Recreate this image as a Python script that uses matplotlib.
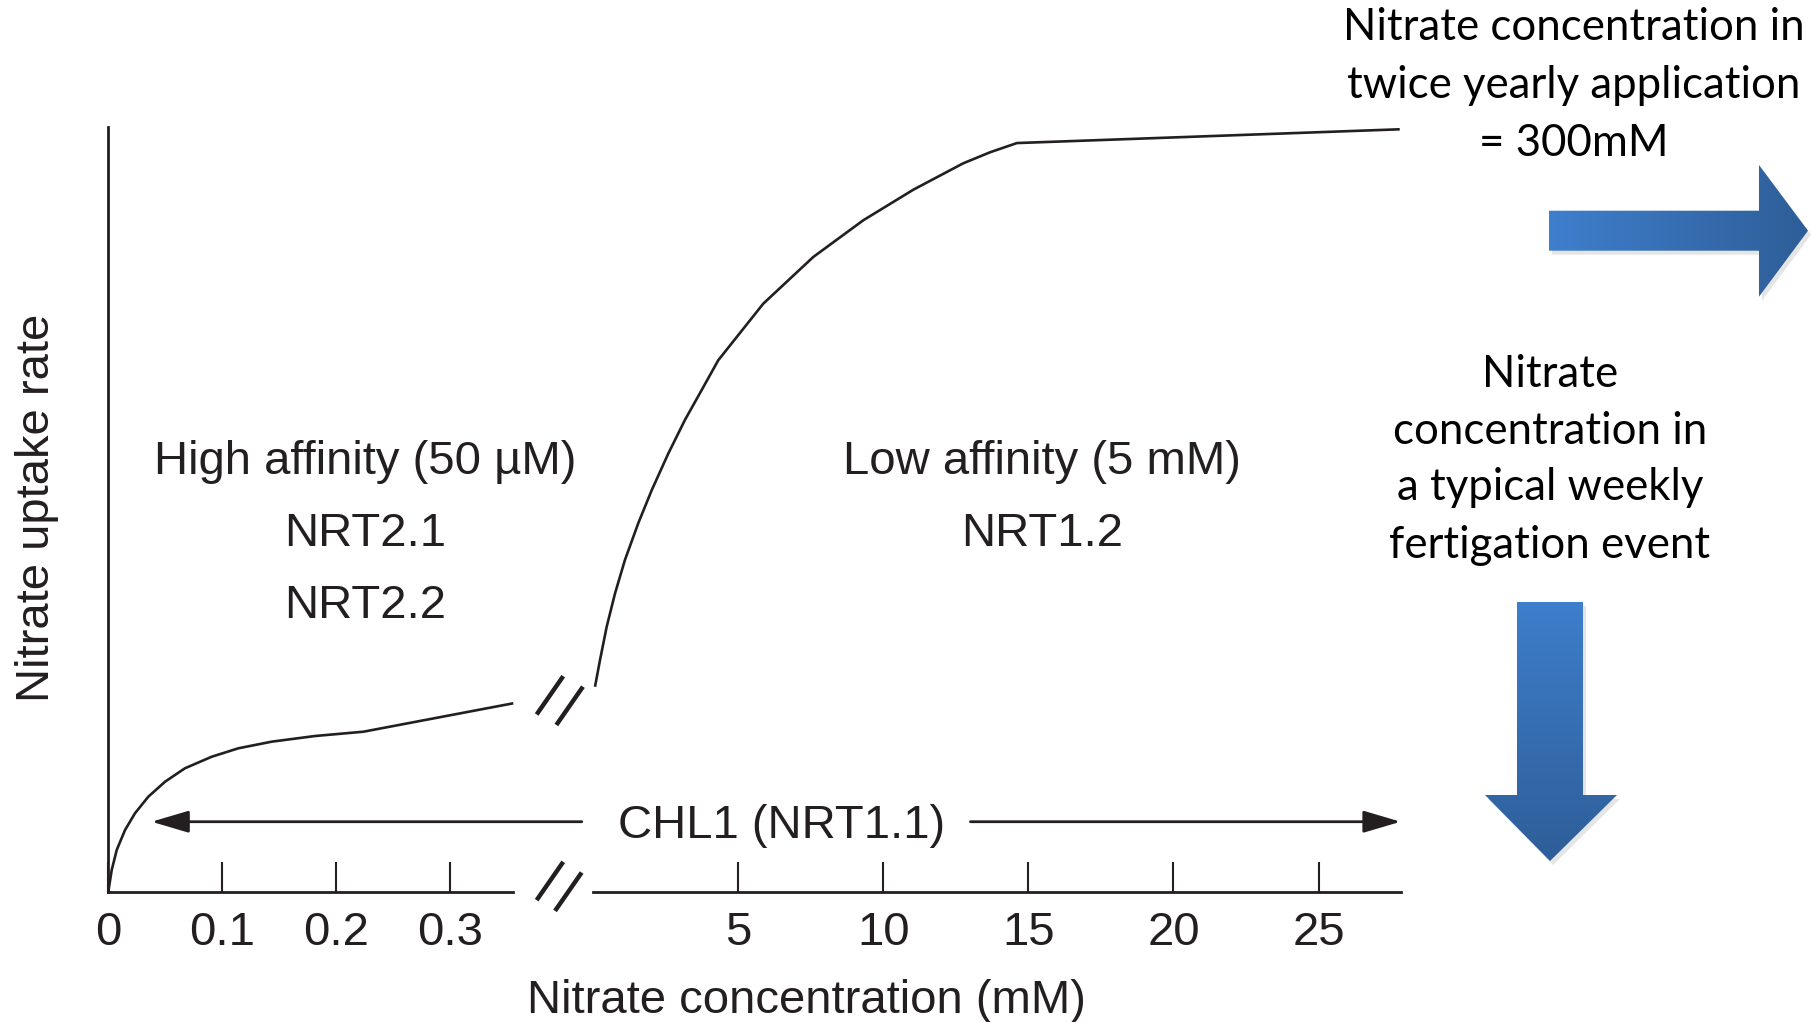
import numpy as np
import matplotlib
matplotlib.use("Agg")
import matplotlib.pyplot as plt
from matplotlib.patches import Polygon, ArrowStyle
from matplotlib.colors import to_rgb

# ---------------- data ----------------
low_conc = [0, 0.0030, 0.0074, 0.0147, 0.0234, 0.0351, 0.0498, 0.0673, 0.0908,
            0.1141, 0.1435, 0.1815, 0.2239, 0.3556]
low_rate = [0, 0.0284, 0.0546, 0.0807, 0.1025, 0.1242, 0.1438, 0.1614, 0.1765,
            0.1875, 0.1962, 0.2036, 0.2092, 0.2464]
high_conc = [0.055, 0.228, 0.458, 0.745, 1.089, 1.548, 2.010, 2.582, 3.157, 3.733,
             4.305, 5.857, 7.580, 9.304, 11.03, 12.75, 13.68, 14.6, 27.8]
high_rate = [0.268, 0.303, 0.3465, 0.390, 0.434, 0.482, 0.525, 0.573, 0.617, 0.656,
             0.695, 0.769, 0.830, 0.878, 0.918, 0.9525, 0.967, 0.979, 0.997]
low_ticks = [0, 0.1, 0.2, 0.3]
low_ticklabels = ["0", "0.1", "0.2", "0.3"]
high_ticks = [5, 10, 15, 20, 25]
high_ticklabels = ["5", "10", "15", "20", "25"]
low_xmax = 0.3556
high_xmax = 27.83
chl1_level = 0.0915
chl1_left_tip = 0.038
chl1_left_tail = -0.40   # (in high-range axis units, inside the break gap)
chl1_right_tail = 13.0

xlabel = "Nitrate concentration (mM)"
ylabel = "Nitrate uptake rate"
high_aff_lines = ["High affinity (50 \u00b5M)", "NRT2.1", "NRT2.2"]
low_aff_lines = ["Low affinity (5 mM)", "NRT1.2"]
chl1_label = "CHL1 (NRT1.1)"
yearly_lines = ["Nitrate concentration in", "twice yearly application", "= 300mM"]
weekly_lines = ["Nitrate", "concentration in", "a typical weekly", "fertigation event"]

# ---------------- styling ----------------
W, H, DPI = 1812, 1022, 100
INK = "#231f20"
FONT = ["Liberation Sans", "DejaVu Sans"]
FONT2 = ["Lato", "DejaVu Sans"]
FS = 34
FS2 = 31.5

fig = plt.figure(figsize=(W / DPI, H / DPI), dpi=DPI)
fig.patch.set_facecolor("white")

def fx(px):
    return px / W

def fy(py):
    return 1 - py / H

ybot, ytop = 891.7, 127.0
ax1 = fig.add_axes([fx(108.3), fy(ybot), (513.3 - 108.3) / W, (ybot - ytop) / H])
ax2 = fig.add_axes([fx(593.4), fy(ybot), (1400.6 - 593.4) / W, (ybot - ytop) / H])

for ax, xmax in ((ax1, low_xmax), (ax2, high_xmax)):
    ax.set_xlim(0, xmax)
    ax.set_ylim(0, 1)
    ax.set_yticks([])
    ax.patch.set_alpha(0)
    for s in ("top", "right"):
        ax.spines[s].set_visible(False)
    ax.spines["bottom"].set_linewidth(2.0)
    ax.spines["bottom"].set_color(INK)
    ax.tick_params(axis="x", direction="in", length=21.5, width=1.5, color=INK,
                   pad=14, labelsize=FS, labelcolor=INK)
ax1.spines["left"].set_linewidth(2.0)
ax1.spines["left"].set_color(INK)
ax2.spines["left"].set_visible(False)

ax1.set_xticks(low_ticks)
ax1.set_xticklabels(low_ticklabels, fontfamily=FONT)
ax2.set_xticks(high_ticks)
ax2.set_xticklabels(high_ticklabels, fontfamily=FONT)

ax1.plot(low_conc, low_rate, color=INK, lw=1.9, clip_on=False,
         solid_joinstyle="round", solid_capstyle="butt")
ax2.plot(high_conc, high_rate, color=INK, lw=1.9, clip_on=False,
         solid_joinstyle="round", solid_capstyle="butt")

# CHL1 double arrow (two halves around the label)
astyle = ArrowStyle("-|>", head_length=1.15, head_width=0.34)
ax1.annotate("", xy=(chl1_left_tip, chl1_level), xycoords="data",
             xytext=(chl1_left_tail, chl1_level), textcoords=ax2.transData,
             arrowprops=dict(arrowstyle=astyle, mutation_scale=20, lw=2.0,
                             color=INK, shrinkA=0, shrinkB=0))
ax2.annotate("", xy=(high_xmax, chl1_level), xycoords="data",
             xytext=(chl1_right_tail, chl1_level), textcoords="data",
             arrowprops=dict(arrowstyle=astyle, mutation_scale=20, lw=2.0,
                             color=INK, shrinkA=0, shrinkB=0),
             annotation_clip=False)

# ---------------- overlay in pixel coordinates ----------------
ov = fig.add_axes([0, 0, 1, 1])
ov.set_xlim(0, W)
ov.set_ylim(H, 0)
ov.axis("off")
ov.patch.set_alpha(0)

def to_px(ax, x, y):
    dx, dy = ax.transData.transform((x, y))
    return dx, H - dy

def break_marks(cx, cy, c1, c2):
    d = np.array([26.6, -38.3]) / 2
    for off in (c1, c2):
        c = np.array([cx + off[0], cy + off[1]])
        p0, p1 = c - d, c + d
        ov.plot([p0[0], p1[0]], [p0[1], p1[1]], color=INK, lw=3.2,
                solid_capstyle="butt")

# on the x axis
xa, ya = to_px(ax1, low_xmax, 0)
xb, yb = to_px(ax2, 0, 0)
break_marks((xa + xb) / 2, ya, (-3.4, -10.7), (15.0, 0.0))
# on the curve
xa, ya = to_px(ax1, low_conc[-1], low_rate[-1])
xb, yb = to_px(ax2, high_conc[0], high_rate[0])
break_marks((xa + xb) / 2, (ya + yb) / 2, (-4.2, 0.3), (15.5, 10.8))

def ptext(x, y, s, **kw):
    ov.text(x, y, s, **kw)

# chart texts
for s, yb_ in zip(high_aff_lines, (473.5, 545.5, 618.0)):
    ptext(365, yb_, s, ha="center", va="baseline", fontsize=FS, color=INK, family=FONT)
for s, yb_ in zip(low_aff_lines, (473.5, 545.5)):
    ptext(1042, yb_, s, ha="center", va="baseline", fontsize=FS, color=INK, family=FONT)
ptext(782, 838.5, chl1_label, ha="center", va="baseline", fontsize=FS, color=INK, family=FONT)
ptext(806, 1013, xlabel, ha="center", va="baseline", fontsize=FS, color=INK, family=FONT)
ptext(49, 508, ylabel, ha="center", va="baseline", rotation=90, rotation_mode="anchor",
      fontsize=FS, color=INK, family=FONT)

# right-hand notes
for s, yb_ in zip(yearly_lines, (40.5, 98.0, 155.5)):
    ptext(1574, yb_, s, ha="center", va="baseline", fontsize=FS2, color="black", family=FONT2)
for s, yb_ in zip(weekly_lines, (387.0, 444.0, 500.5, 557.5)):
    ptext(1550, yb_, s, ha="center", va="baseline", fontsize=FS2, color="black", family=FONT2)

# gradient blue block arrows
def grad_arrow(verts, c0, c1, horizontal):
    shadow = Polygon([(x + 3, y + 4) for x, y in verts], closed=True,
                     facecolor="#000000", alpha=0.10, edgecolor="none", zorder=2)
    ov.add_patch(shadow)
    poly = Polygon(verts, closed=True, facecolor="none", edgecolor="none", zorder=3)
    ov.add_patch(poly)
    xs, ys = zip(*verts)
    x0, x1, y0, y1 = min(xs), max(xs), min(ys), max(ys)
    t = np.linspace(0, 1, 256)[:, None]
    cols = np.array(to_rgb(c0)) * (1 - t) + np.array(to_rgb(c1)) * t
    img = cols[None, :, :] if horizontal else cols[:, None, :]
    im = ov.imshow(img, extent=(x0, x1, y1, y0), origin="upper", aspect="auto",
                   interpolation="bilinear", zorder=3)
    im.set_clip_path(poly)

grad_arrow([(1549, 210.7), (1759, 210.7), (1759, 165), (1808, 230.7),
            (1759, 296.7), (1759, 250.7), (1549, 250.7)],
           "#3f7fcd", "#2e5e98", True)
grad_arrow([(1517, 602), (1583, 602), (1583, 795), (1617, 795), (1550, 861),
            (1485, 795), (1517, 795)],
           "#3e7ecb", "#2e5e98", False)

ov.set_xlim(0, W)
ov.set_ylim(H, 0)

fig.savefig("out.png", dpi=DPI, facecolor="white")
